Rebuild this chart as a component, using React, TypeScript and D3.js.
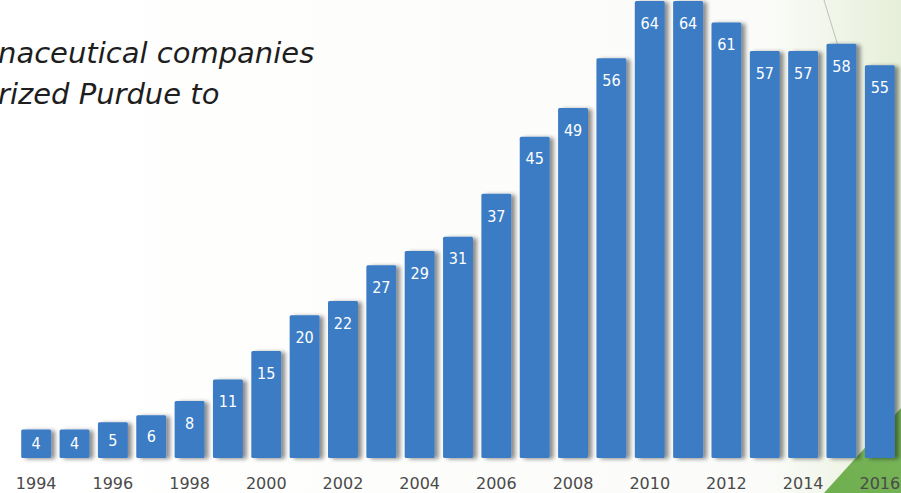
import React from "react";
import * as d3 from "d3";

const years: number[] = [1994,1995,1996,1997,1998,1999,2000,2001,2002,2003,2004,2005,2006,2007,2008,2009,2010,2011,2012,2013,2014,2015,2016];
const values: number[] = [4,4,5,6,8,11,15,20,22,27,29,31,37,45,49,56,64,64,61,57,57,58,55];
const tickYears: number[] = [1994,1996,1998,2000,2002,2004,2006,2008,2010,2012,2014,2016];
const titleLines: string[] = ["naceutical companies", "rized Purdue to"];

const W = 901;
const H = 493;

export default function App() {
  const x = d3.scaleBand<number>().domain(years).range([17, 899]).paddingInner(0.22).paddingOuter(0.11);
  const y = d3.scaleLinear().domain([0, 64]).range([458, 1]);
  const bw = x.bandwidth();
  return (
    <svg width={W} height={H} style={{ position: "absolute", left: 0, top: 0, display: "block" }}>
      <defs>
        <filter id="sh" x="-20%" y="-5%" width="160%" height="120%">
          <feGaussianBlur in="SourceAlpha" stdDeviation="2.2" />
          <feOffset dx="4" dy="1" result="b" />
          <feComponentTransfer><feFuncA type="linear" slope="0.45" /></feComponentTransfer>
          <feMerge><feMergeNode /><feMergeNode in="SourceGraphic" /></feMerge>
        </filter>
        <linearGradient id="bg" x1="0" y1="0" x2="1" y2="0">
          <stop offset="0" stopColor="#ffffff" />
          <stop offset="0.85" stopColor="#fbfcf9" />
          <stop offset="1" stopColor="#e6efd9" />
        </linearGradient>
        <linearGradient id="gr" x1="0" y1="1" x2="1" y2="0">
          <stop offset="0" stopColor="#6fae4f" />
          <stop offset="1" stopColor="#79b65a" />
        </linearGradient>
      </defs>
      <rect x={0} y={0} width={W} height={H} fill="url(#bg)" />
      <polygon points={`824,${H} ${W},408 ${W},${H}`} fill="url(#gr)" />
      <line x1={824} y1={0} x2={838} y2={46} stroke="#a9aaa4" strokeWidth={1} opacity={0.7} />
      <g fontFamily="'DejaVu Sans', sans-serif" fontStyle="italic" fontSize={29} fill="#1e1e1e">
        <text x={-2} y={63}>{titleLines[0]}</text>
        <text x={-2} y={104}>{titleLines[1]}</text>
      </g>
      <g filter="url(#sh)">
        {years.map((yr, i) => (
          <rect key={yr} x={x(yr)} y={y(values[i])} width={bw} height={y(0) - y(values[i])} fill="#3b7bc5" rx={1.5} />
        ))}
      </g>
      <g fontFamily="'DejaVu Sans Condensed', 'DejaVu Sans', sans-serif" fontSize={16} fill="#ffffff" textAnchor="middle">
        {years.map((yr, i) => {
          const top = y(values[i]);
          const h = y(0) - top;
          return (
            <text key={yr} x={(x(yr) as number) + bw / 2} y={top + Math.min(22, h / 2)} dy="0.36em">{values[i]}</text>
          );
        })}
      </g>
      <g fontFamily="'DejaVu Sans', sans-serif" fontSize={16} fill="#4a4a4a" textAnchor="middle">
        {tickYears.map((yr) => (
          <text key={yr} x={(x(yr) as number) + bw / 2} y={489}>{yr}</text>
        ))}
      </g>
    </svg>
  );
}
